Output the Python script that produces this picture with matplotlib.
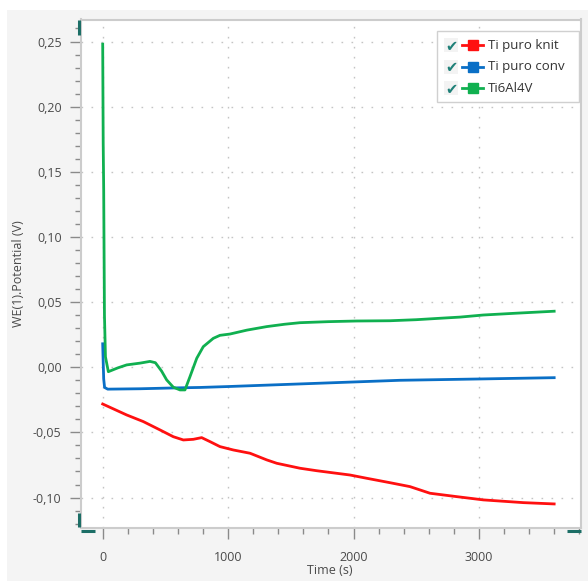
import matplotlib
matplotlib.use("Agg")
import matplotlib.pyplot as plt
from matplotlib.lines import Line2D
from matplotlib.patches import Rectangle
from matplotlib.ticker import MultipleLocator, FuncFormatter

plt.rcParams['font.family'] = ['Open Sans', 'DejaVu Sans']

# Open-circuit potential vs time
series_names = ["Ti puro knit", "Ti puro conv", "Ti6Al4V"]
series_colors = ["#ff1010", "#0a6fc6", "#10b050"]

t_knit = [0, 191, 324, 457, 563, 643, 723, 789, 856, 935, 1042, 1175, 1308, 1388,
          1573, 1706, 1972, 2105, 2291, 2450, 2610, 2823, 3035, 3354, 3600]
v_knit = [-0.0282, -0.0366, -0.0417, -0.0481, -0.0533, -0.0558, -0.0553, -0.0540,
          -0.0571, -0.0609, -0.0635, -0.0660, -0.0711, -0.0737, -0.0775, -0.0794,
          -0.0827, -0.0852, -0.0886, -0.0916, -0.0967, -0.0993, -0.1018, -0.1039, -0.1049]

t_conv = [0, 4, 8, 15, 40, 300, 600, 777, 1000, 1573, 2000, 2371, 3000, 3600]
v_conv = [0.018, 0.004, -0.009, -0.0155, -0.0168, -0.0165, -0.0158, -0.0155,
          -0.0148, -0.0128, -0.0113, -0.0100, -0.0090, -0.0080]

t_ti64 = [0, 4, 8, 14, 22, 45, 120, 191, 300, 377, 420, 470, 510, 563, 616, 656,
          696, 750, 802, 882, 935, 1015, 1150, 1308, 1450, 1573, 1800, 2025, 2291,
          2500, 2690, 2850, 3035, 3300, 3600]
v_ti64 = [0.248, 0.172, 0.136, 0.040, 0.008, -0.0034, -0.0005, 0.0018, 0.0032,
          0.0045, 0.0035, -0.003, -0.0097, -0.0153, -0.0174, -0.0174, -0.0072,
          0.0069, 0.0158, 0.0222, 0.0245, 0.0255, 0.0285, 0.0312, 0.0330, 0.0342,
          0.0350, 0.0355, 0.0357, 0.0365, 0.0376, 0.0385, 0.0401, 0.0415, 0.0430]

x_label = "Time (s)"
y_label = "WE(1).Potential (V)"

W, H = 588, 581
fig = plt.figure(figsize=(W / 100, H / 100), dpi=100, facecolor="white")


def fx(px):
    return px / W


def fy(py):
    return 1 - py / H


# panel background
fig.add_artist(Rectangle((fx(7), 0), 1 - fx(7), fy(10), transform=fig.transFigure,
                         facecolor="#f4f4f4", edgecolor="none", zorder=-10))

ax = fig.add_axes([fx(81), fy(528.3), fx(580.5) - fx(81), fy(19.5) - fy(528.3)])
ax.set_facecolor("white")

for t, v, c in zip([t_knit, t_conv, t_ti64], [v_knit, v_conv, v_ti64], series_colors):
    ax.plot(t, v, color=c, lw=2.0, solid_joinstyle="round", zorder=3)

ax.set_xlim(-173, 3810)
ax.set_ylim(-0.1236, 0.2669)

ax.xaxis.set_major_locator(MultipleLocator(1000))
ax.xaxis.set_minor_locator(MultipleLocator(200))
ax.yaxis.set_major_locator(MultipleLocator(0.05))
ax.yaxis.set_minor_locator(MultipleLocator(0.01))
ax.yaxis.set_major_formatter(FuncFormatter(lambda v, p: f"{v:.2f}".replace(".", ",").replace("-0,00", "0,00")))

ax.grid(True, which="major", color="#c4c4c4", lw=1.0, linestyle=(0, (1.2, 6)))
ax.tick_params(which="major", length=8, width=1, color="#8a8a8a", labelsize=9,
               labelcolor="#4a4a4a", pad=6)
ax.tick_params(which="minor", length=4, width=1, color="#8a8a8a")
ax.tick_params(axis="x", which="major", pad=8)
for s in ax.spines.values():
    s.set_color("#cccccc")
    s.set_linewidth(1.5)

fig.text(fx(330), fy(570), x_label, ha="center", va="center", fontsize=9, color="#4a4a4a")
fig.text(fx(19), fy(274), y_label, ha="center", va="center", rotation=90, fontsize=9,
         color="#4a4a4a")

# cursor handles at the plot corners
teal = "#1c6e66"
for (x0, y0, x1, y1) in [(79, 20, 79, 35), (78.5, 513, 78.5, 527), (81, 530.5, 95, 530.5),
                         (567, 530.5, 581, 530.5)]:
    fig.add_artist(Line2D([fx(x0), fx(x1)], [fy(y0), fy(y1)], transform=fig.transFigure,
                          color=teal, lw=2.2, solid_capstyle="butt", zorder=10))

# legend
fig.add_artist(Rectangle((fx(437), fy(102)), fx(579) - fx(437), fy(31) - fy(102),
                         transform=fig.transFigure, facecolor="white", edgecolor="#d0d0d0",
                         lw=1.0, zorder=11))
for i, (name, c) in enumerate(zip(series_names, series_colors)):
    yrow = 45 + i * 21.6
    fig.add_artist(Rectangle((fx(444), fy(yrow + 7)), fx(14), fy(0) - fy(14),
                             transform=fig.transFigure, facecolor="#f3f3f3",
                             edgecolor="none", zorder=12))
    fig.text(fx(451), fy(yrow + 1), "\u2714", ha="center", va="center", fontsize=10.5,
             color="#1f8078", family=["DejaVu Sans"], zorder=13)
    fig.add_artist(Line2D([fx(462), fx(483)], [fy(yrow), fy(yrow)], transform=fig.transFigure,
                          color=c, lw=2.0, zorder=12))
    fig.add_artist(Line2D([fx(472.5)], [fy(yrow)], transform=fig.transFigure, color=c,
                          marker="s", markersize=6.5, lw=0, zorder=13))
    fig.text(fx(488), fy(yrow), name, ha="left", va="center", fontsize=9.5, color="#333333",
             zorder=13)

fig.savefig("out.png", dpi=100, facecolor=fig.get_facecolor())
